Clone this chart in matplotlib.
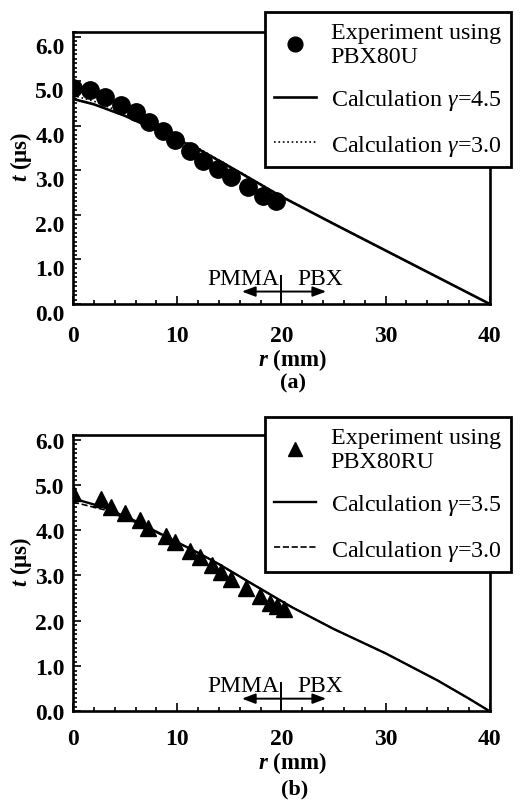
import matplotlib
matplotlib.use("Agg")
import matplotlib.pyplot as plt
import matplotlib.transforms as mtransforms
from matplotlib.ticker import MultipleLocator, FormatStrFormatter

plt.rcParams['font.family'] = ['Liberation Serif', 'DejaVu Serif']
plt.rcParams['mathtext.fontset'] = 'custom'
plt.rcParams['mathtext.rm'] = 'Liberation Serif'
plt.rcParams['mathtext.it'] = 'Liberation Serif:italic'
plt.rcParams['mathtext.sf'] = 'Liberation Serif:italic:bold'  # used for bold italic axis symbols

# (a) PBX80U
exp_a_r = [0, 1.6, 3.1, 4.6, 6.0, 7.3, 8.6, 9.8, 11.2, 12.5, 13.9, 15.2, 16.8, 18.2, 19.5]
exp_a_t = [4.85, 4.8, 4.65, 4.47, 4.3, 4.08, 3.88, 3.68, 3.44, 3.21, 3.03, 2.84, 2.62, 2.43, 2.32]
calc_a_r = [0, 2, 5, 8, 12, 16, 20, 25, 30, 35, 40]
calc_a_45 = [4.6, 4.48, 4.22, 3.9, 3.48, 2.95, 2.41, 1.8, 1.2, 0.6, 0.0]
calc_a_30 = [4.68, 4.55, 4.27, 3.93, 3.5, 2.96, 2.42, 1.8, 1.2, 0.6, 0.0]

# (b) PBX80RU
exp_b_r = [0, 2.7, 3.6, 5.0, 6.4, 7.2, 8.9, 9.8, 11.2, 12.2, 13.3, 14.2, 15.2, 16.6, 17.9, 18.9, 19.6, 20.2]
exp_b_t = [4.82, 4.68, 4.5, 4.37, 4.22, 4.05, 3.87, 3.73, 3.55, 3.4, 3.23, 3.07, 2.92, 2.73, 2.55, 2.4, 2.32, 2.26]
calc_b_r = [0, 3, 6, 9, 12, 14, 17, 21, 25, 30, 35, 38, 40]
calc_b_35 = [4.7, 4.5, 4.2, 3.85, 3.5, 3.25, 2.84, 2.3, 1.82, 1.28, 0.68, 0.28, 0.0]
calc_b_30 = [4.62, 4.45, 4.17, 3.84, 3.5, 3.25, 2.84, 2.3, 1.82, 1.28, 0.68, 0.28, 0.0]

interface_r = 20
arrow_left, arrow_right = 16.2, 24.3

fig = plt.figure(figsize=(5.23, 8.04), dpi=100)
ax_a = fig.add_axes([0.1396, 0.6206, 0.797, 0.3383])
ax_b = fig.add_axes([0.1396, 0.1140, 0.797, 0.3437])


def style_axes(ax, xpad, xlabelpad, ylab_shift):
    ax.set_xlim(0, 40)
    ax.set_ylim(0, 6.1)
    ax.xaxis.set_major_locator(MultipleLocator(10))
    ax.xaxis.set_minor_locator(MultipleLocator(2))
    ax.yaxis.set_major_locator(MultipleLocator(1))
    ax.yaxis.set_minor_locator(MultipleLocator(0.1))
    ax.yaxis.set_major_formatter(FormatStrFormatter('%.1f'))
    ax.tick_params(which='both', direction='in', top=False, right=False, width=1.2)
    ax.tick_params(which='major', length=6)
    ax.tick_params(which='minor', length=3)
    ax.tick_params(axis='x', pad=xpad)
    ax.tick_params(axis='y', pad=6)
    for lab in ax.get_xticklabels() + ax.get_yticklabels():
        lab.set_fontsize(17)
        lab.set_fontweight('bold')
    if ylab_shift:
        off = mtransforms.ScaledTranslation(0, -ylab_shift / 100, fig.dpi_scale_trans)
        for lab in ax.get_yticklabels():
            lab.set_transform(lab.get_transform() + off)
    for sp in ax.spines.values():
        sp.set_linewidth(1.9)
    ax.set_xlabel(r'$\mathsf{r}$ (mm)', fontsize=16.5, fontweight='bold', x=0.526, labelpad=xlabelpad)
    ax.set_ylabel(r'$\mathsf{t}$ (μs)', fontsize=16.5, fontweight='bold', y=0.545, labelpad=1)
    # PMMA / PBX interface marker
    ax.plot([interface_r, interface_r], [0, 0.63], color='black', lw=1.4)
    ax.annotate('', xy=(arrow_left, 0.28), xytext=(arrow_right, 0.28),
                arrowprops=dict(arrowstyle='<|-|>,head_length=0.8,head_width=0.3',
                                color='black', lw=1.4, shrinkA=0, shrinkB=0))
    ax.text(19.8, 0.58, 'PMMA', fontsize=17, ha='right', va='center')
    ax.text(21.5, 0.58, 'PBX', fontsize=17, ha='left', va='center')


ax_a.plot(exp_a_r, exp_a_t, 'o', color='black', ms=12.5, label='Experiment using\nPBX80U', zorder=3)
ax_a.plot(calc_a_r, calc_a_45, '-', color='black', lw=1.9, label=r'Calculation $\gamma$=4.5')
ax_a.plot(calc_a_r, calc_a_30, ':', color='black', lw=1.2, label=r'Calculation $\gamma$=3.0')
style_axes(ax_a, 15, 0, 8)

ax_b.plot(exp_b_r, exp_b_t, '^', color='black', ms=12, label='Experiment using\nPBX80RU', zorder=3)
ax_b.plot(calc_b_r, calc_b_35, '-', color='black', lw=1.7, label=r'Calculation $\gamma$=3.5')
ax_b.plot(calc_b_r, calc_b_30, '--', color='black', lw=1.2, label=r'Calculation $\gamma$=3.0')
style_axes(ax_b, 12, 0, 0)

for ax, top in [(ax_a, 1 - 13 / 804), (ax_b, 1 - 418 / 804)]:
    leg = ax.legend(loc='upper right', bbox_to_anchor=(511 / 523, top),
                    bbox_transform=fig.transFigure, fontsize=17.3, frameon=True,
                    fancybox=False, framealpha=1, edgecolor='black',
                    handlelength=1.75, handletextpad=0.6, borderpad=0.4,
                    labelspacing=0.85, markerscale=0.85, borderaxespad=0)
    leg.get_frame().set_linewidth(2.0)
    leg.set_zorder(10)

fig.text(0.561, 1 - 383 / 804, '(a)', fontsize=16, fontweight='bold', ha='center', va='center')
fig.text(0.564, 1 - 789 / 804, '(b)', fontsize=16, fontweight='bold', ha='center', va='center')

fig.savefig('out.png', dpi=100)
